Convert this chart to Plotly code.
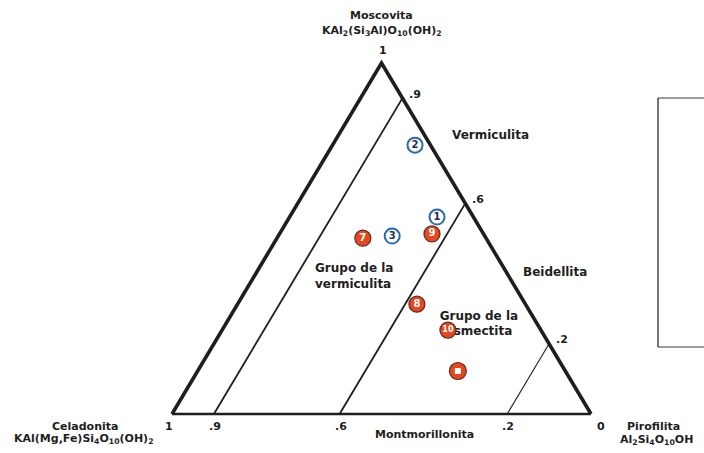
import plotly.graph_objects as go

# --- sample compositions (ternary fractions) ---
# moscovita = top component, pirofilita = bottom-right component,
# celadonita = remainder (bottom-left)
sample_ids_white = ["1", "2", "3"]
moscovita_white = [0.561, 0.766, 0.507]
pirofilita_white = [0.352, 0.197, 0.272]

sample_ids_red = ["7", "9", "8", "10"]
moscovita_red = [0.501, 0.513, 0.313, 0.239]
pirofilita_red = [0.205, 0.364, 0.428, 0.539]

# reference sample drawn with a square inset
moscovita_ref = [0.1225]
pirofilita_ref = [0.621]

# scale values of the guide lines (parallel to the left side)
guide_values = [0.9, 0.6, 0.2]
side_ticks = [0.9, 0.6, 0.2]
side_tick_labels = [".9", ".6", ".2"]
base_ticks = [1.0, 0.9, 0.6, 0.2, 0.0]
base_tick_labels = ["1", ".9", ".6", ".2", "0"]

ORANGE = "#E8461E"
BLUE = "#2A6AA8"
INK = "#1E1E1E"
FONT = "DejaVu Sans"
FS = 12


def to_xy(a, c):
    """Ternary (top, bottom-right) fractions -> cartesian position."""
    return c + 0.5 * a, a


def pts(alist, clist):
    xs, ys = [], []
    for a, c in zip(alist, clist):
        x, y = to_xy(a, c)
        xs.append(x)
        ys.append(y)
    return xs, ys


fig = go.Figure()

# outer triangle: two thick sides and the base
lx, ly = pts([0, 1, 0], [0, 0, 1])
fig.add_trace(go.Scatter(x=lx, y=ly, mode="lines",
                         line=dict(color=INK, width=3.6), hoverinfo="skip"))
bx, by = pts([0, 0], [0, 1])
fig.add_trace(go.Scatter(x=bx, y=by, mode="lines",
                         line=dict(color=INK, width=2.6), hoverinfo="skip"))

# guide lines at constant pirofilita = 1 - v
for v in guide_values:
    c = 1 - v
    gx, gy = pts([0, 1 - c], [c, c])
    fig.add_trace(go.Scatter(x=gx, y=gy, mode="lines",
                             line=dict(color=INK, width=1.8 if v > 0.5 else 1.1),
                             hoverinfo="skip"))

# smectite field name sits beneath the sample markers
g2x, g2y = to_xy(0.255, 0.605)
fig.add_trace(go.Scatter(
    x=[g2x], y=[g2y], mode="text", text=["Grupo de la<br>esmectita"],
    textposition="middle center",
    textfont=dict(family=FONT, size=FS, color=INK, weight="bold"),
    hoverinfo="skip"))

# samples
wx, wy = pts(moscovita_white, pirofilita_white)
fig.add_trace(go.Scatter(
    x=wx, y=wy, mode="markers+text", text=sample_ids_white,
    textposition="middle center",
    textfont=dict(family=FONT, size=10, color="#1B2F55", weight="bold"),
    marker=dict(size=15, color="white", line=dict(color=BLUE, width=2)),
    hoverinfo="skip"))

rx, ry = pts(moscovita_red, pirofilita_red)
fig.add_trace(go.Scatter(
    x=rx, y=ry, mode="markers+text", text=sample_ids_red,
    textposition="middle center",
    textfont=dict(family=FONT, size=[10, 10, 10, 8], color="white",
                  weight="bold"),
    marker=dict(size=16, color=ORANGE, line=dict(color="#5A3020", width=1.2)),
    hoverinfo="skip"))

qx, qy = pts(moscovita_ref, pirofilita_ref)
fig.add_trace(go.Scatter(
    x=qx, y=qy, mode="markers",
    marker=dict(size=17, color=ORANGE, line=dict(color="#5A3020", width=1.2)),
    hoverinfo="skip"))
fig.add_trace(go.Scatter(
    x=qx, y=qy, mode="markers",
    marker=dict(size=6, symbol="square", color="white", line=dict(width=0)),
    hoverinfo="skip"))

annotations = []


def label(x, y, text, size=FS, dx=0, dy=0, align="center"):
    annotations.append(dict(
        x=x, y=y, xref="x", yref="y", text=text, showarrow=False,
        xshift=dx, yshift=dy, xanchor="center", yanchor="middle",
        align=align,
        font=dict(family=FONT, size=size, color=INK, weight="bold")))


# apex tick "1"
ax_, ay_ = to_xy(1, 0)
label(ax_, ay_, "1", size=11, dx=1, dy=13)
# right side ticks
for v, t in zip(side_ticks, side_tick_labels):
    x, y = to_xy(v, 1 - v)
    label(x, y, t, size=11, dx=13, dy=4)
# base ticks
base_dx = {"1": -3, "0": 10}
for v, t in zip(base_ticks, base_tick_labels):
    x, y = to_xy(0, 1 - v)
    label(x, y, t, size=11, dx=base_dx.get(t, 1), dy=-12)

# vertex names (positioned relative to the vertices)
label(ax_, ay_, "Moscovita", size=11, dy=48)
label(ax_, ay_, "KAl<sub>2</sub>(Si<sub>3</sub>Al)O<sub>10</sub>(OH)<sub>2</sub>",
      size=11, dy=32)
cx0, cy0 = to_xy(0, 0)
label(cx0, cy0, "Celadonita", size=11, dx=-87, dy=-12)
label(cx0, cy0, "KAl(Mg,Fe)Si<sub>4</sub>O<sub>10</sub>(OH)<sub>2</sub>",
      size=11, dx=-88, dy=-25)
px0, py0 = to_xy(0, 1)
label(px0, py0, "Pirofilita", size=11, dx=62, dy=-12)
label(px0, py0, "Al<sub>2</sub>Si<sub>4</sub>O<sub>10</sub>OH", size=11,
      dx=65, dy=-26)

# field names
mx, my = to_xy(0, 0.5)
label(mx, my, "Montmorillonita", size=11, dx=43, dy=-20)
vx, vy = to_xy(0.795, 0.205)
label(vx, vy, "Vermiculita", dx=66, dy=0)
bex, bey = to_xy(0.405, 0.595)
label(bex, bey, "Beidellita", dx=49, dy=0)
g1x, g1y = to_xy(0.41, 0.2)
label(g1x, g1y, "Grupo de la<br>vermiculita", dx=12, dy=-6, align="left")

# empty legend frame on the right
W, H = 704, 453
lx0 = 658 / W
ly_top = 1 - 98 / H
ly_bot = 1 - 347 / H
shapes = [
    dict(type="line", xref="paper", yref="paper", x0=lx0, x1=1.02,
         y0=ly_top, y1=ly_top, line=dict(color="#7A7A7A", width=1.5)),
    dict(type="line", xref="paper", yref="paper", x0=lx0, x1=1.02,
         y0=ly_bot, y1=ly_bot, line=dict(color="#7A7A7A", width=1.5)),
    dict(type="line", xref="paper", yref="paper", x0=lx0, x1=lx0,
         y0=ly_bot, y1=ly_top, line=dict(color="#1A1A1A", width=1.2)),
]

# axis ranges chosen so the base spans x 0..1 and apex height is 1
left_px, right_px, base_px, apex_px = 172, 591, 414, 63
sx = right_px - left_px
sy = base_px - apex_px
fig.update_layout(
    width=W, height=H,
    margin=dict(l=0, r=0, t=0, b=0),
    paper_bgcolor="white", plot_bgcolor="white",
    showlegend=False,
    xaxis=dict(range=[-left_px / sx, (W - left_px) / sx], visible=False,
               fixedrange=True),
    yaxis=dict(range=[(base_px - H) / sy, base_px / sy], visible=False,
               fixedrange=True),
    annotations=annotations,
    shapes=shapes,
)

fig.write_html("out.html")
